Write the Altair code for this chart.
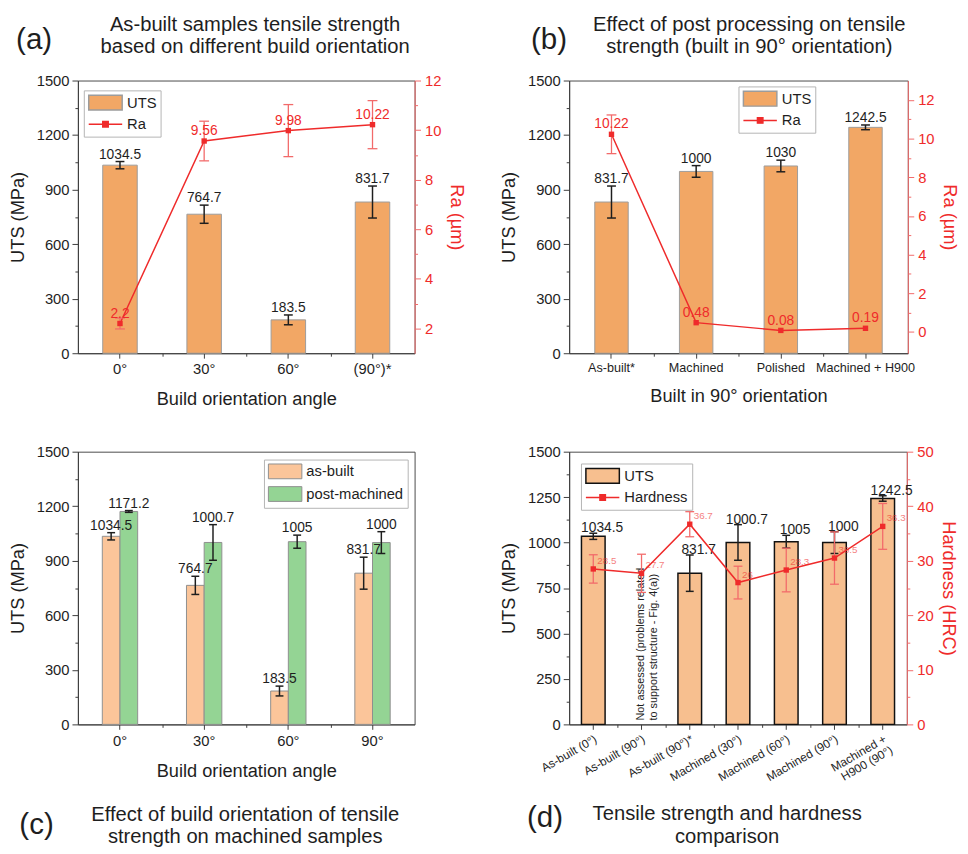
import altair as alt
import pandas as pd

FONT = "Liberation Sans"
INK = "#1e1e1e"
AXC = "#3c3c3c"
RED = "#EF2B2B"
RED_AX = "#F26A6A"
ORANGE = "#F2A765"
PEACH = "#F7BF8F"
ASB = "#FBC59A"
GREEN = "#94D494"

# legend swatch paths (symbolSize 225 -> unit = 7.5 px)
RECT = "M-1,-1H3.53V1H-1Z"
LINEPT = "M-1,0H3.53M0.9,-0.37H1.64V0.37H0.9Z"

# ---------------- data ----------------
# (a)
a_cats = ["0°", "30°", "60°", "(90°)*"]
a_uts = [1034.5, 764.7, 183.5, 831.7]
a_uts_err = [20, 50, 27, 88]
a_ra = [2.2, 9.56, 9.98, 10.22]
a_ra_err = [0.22, 0.8, 1.05, 0.97]

# (b)
b_cats = ["As-built*", "Machined", "Polished", "Machined + H900"]
b_uts = [831.7, 1000, 1030, 1242.5]
b_uts_err = [88, 32, 32, 13]
b_ra = [10.22, 0.48, 0.08, 0.19]
b_ra_err = [1.0, 0, 0, 0]

# (c)
c_cats = ["0°", "30°", "60°", "90°"]
c_series = ["as-built", "post-machined"]
c_asbuilt = [1034.5, 764.7, 183.5, 831.7]
c_asbuilt_err = [20, 50, 27, 88]
c_machined = [1171.2, 1000.7, 1005, 1000]
c_machined_err = [5, 98, 36, 60]

# (d)
d_cats = ["As-built (0°)", "As-built (90°)", "As-built (90°)*", "Machined (30°)",
          "Machined (60°)", "Machined (90°)", "Machined + H900 (90°)"]
d_uts = [1034.5, None, 831.7, 1000.7, 1005, 1000, 1242.5]
d_uts_err = [17, None, 100, 98, 35, 60, 15]
d_hard = [28.5, 27.7, 36.7, 26, 28.3, 30.5, 36.3]
d_hard_err = [2.6, 3.5, 2.3, 3.0, 4.0, 4.8, 4.2]
d_note = ["Not assessed (problems related", "to support structure - Fig. 4(a))"]

titles = {
    "a": ["As-built samples tensile strength", "based on different build orientation"],
    "b": ["Effect of post processing on tensile", "strength (built in 90° orientation)"],
    "c": ["Effect of build orientation of tensile", "strength on machined samples"],
    "d": ["Tensile strength and hardness", "comparison"],
}

W_AC, W_B, W_D, H = 342, 344, 343, 277


def fmt(v):
    return f"{v:g}"


def bar_rows(cats, vals, errs):
    rows = []
    for c, v, e in zip(cats, vals, errs):
        if v is None:
            continue
        rows.append({"cat": c, "val": v, "lo": v - e, "hi": v + e, "lab": fmt(v)})
    return pd.DataFrame(rows)


def major_test(step):
    return f"datum.value % {step} === 0"


def left_axis(step, top):
    vals = list(range(0, top + 1, step // 2))
    return alt.Axis(orient="left", values=vals, format="d", title="UTS (MPa)",
                    tickSize={"condition": {"test": major_test(step), "value": 6}, "value": 3},
                    labelPadding=3, titlePadding=9, labelFontSize=15, titleFontSize=18.5,
                    domainColor=AXC, tickColor=AXC, labelColor=INK, titleColor=INK, grid=False,
                    labelExpr=f"{major_test(step)} ? datum.label : ''")


def right_axis(lo, hi, step, title):
    vals = list(range(lo, hi + 1, step // 2))
    return alt.Axis(orient="right", values=vals, format="d", title=title,
                    tickSize={"condition": {"test": major_test(step), "value": 6}, "value": 3},
                    labelPadding=4, titlePadding=6, labelFontSize=15, titleFontSize=18.5,
                    domainColor=RED_AX, tickColor=RED_AX, labelColor=RED, titleColor=RED,
                    grid=False, labelExpr=f"{major_test(step)} ? datum.label : ''")


def bottom_axis(title, fs, angle=0, label_expr=None, title_pad=13):
    kw = dict(orient="bottom", tickSize=5, labelPadding=4, titlePadding=title_pad,
              labelFontSize=fs, titleFontSize=18.5, labelAngle=angle, domainColor=AXC,
              tickColor=AXC, labelColor=INK, titleColor=INK, labelOverlap=False, grid=False)
    kw["title"] = title
    if label_expr:
        kw["labelExpr"] = label_expr
        kw["labelLineHeight"] = 13
    return alt.Axis(**kw)


def minor_x_axis(cats, width):
    step = width / len(cats)
    return alt.Axis(orient="bottom", values=cats[:-1], tickOffset=step / 2, tickSize=3,
                    labels=False, domain=False, title=None, tickColor=AXC, grid=False)


def band(cats, padi):
    return alt.Scale(domain=cats, paddingInner=padi, paddingOuter=padi / 2)


def legend_spec(x, y):
    return alt.Legend(title=None, orient="none", legendX=x, legendY=y, symbolSize=225,
                      symbolStrokeWidth=1.5, labelFontSize=15, labelColor=INK, labelFont=FONT,
                      labelOffset=23, rowPadding=3, padding=4, strokeColor="#b4b4b4",
                      fillColor="white")


def legend_layer(names, fills, strokes, x, y):
    leg = legend_spec(x, y)
    return alt.Chart(pd.DataFrame({"series": names})).transform_filter("false").mark_point(
        filled=True, opacity=1).encode(
        color=alt.Color("series:N", scale=alt.Scale(domain=names, range=fills), legend=leg),
        stroke=alt.Stroke("series:N", scale=alt.Scale(domain=names, range=strokes), legend=leg),
        shape=alt.Shape("series:N", scale=alt.Scale(domain=names, range=[RECT, LINEPT]), legend=leg),
    )


def header_layers(letter, lx, ly, lines, tx, ty, lh):
    one = pd.DataFrame({"k": [0]})
    let = alt.Chart(one).mark_text(fontSize=30, color=INK, align="center", baseline="middle").encode(
        text=alt.value(letter), x=alt.value(lx), y=alt.value(ly))
    ttl = alt.Chart(one).mark_text(fontSize=20.5, color=INK, align="center", baseline="alphabetic",
                                   lineHeight=lh).encode(
        text=alt.value(lines), x=alt.value(tx), y=alt.value(ty))
    return [let, ttl]


def uts_ra_panel(cats, uts, uts_err, ra, ra_err, ra_dom, ra_rng, xtitle, xfs, padi, width,
                 leg_xy, header, xtp):
    bdf = bar_rows(cats, uts, uts_err)
    rdf = pd.DataFrame({"cat": cats, "val": ra, "lab": [fmt(v) for v in ra]})
    redf = pd.DataFrame([{"cat": c, "lo": v - e, "hi": v + e}
                         for c, v, e in zip(cats, ra, ra_err) if e > 0])
    x = alt.X("cat:N", sort=cats, scale=band(cats, padi), axis=bottom_axis(xtitle, xfs, title_pad=xtp))
    xm = alt.X("cat:N", sort=cats, scale=band(cats, padi), axis=minor_x_axis(cats, width))
    ys = alt.Scale(domain=[0, 1500], nice=False)
    ya = left_axis(300, 1500)

    def Y(f):
        return alt.Y(f, scale=ys, axis=ya)

    b = alt.Chart(bdf).encode(x=x)
    bars = b.mark_bar(fill=ORANGE, stroke="#9c9c9c", strokeWidth=1).encode(y=Y("val:Q"))
    err = b.mark_rule(color=INK, strokeWidth=1.5).encode(y=Y("lo:Q"), y2="hi:Q")
    cap1 = b.mark_tick(color=INK, thickness=1.5, size=9, opacity=1).encode(y=Y("lo:Q"))
    cap2 = b.mark_tick(color=INK, thickness=1.5, size=9, opacity=1).encode(y=Y("hi:Q"))
    txt = b.mark_text(fontSize=14, color=INK, baseline="alphabetic", dy=-3).encode(
        y=Y("hi:Q"), text="lab:N")
    leg = legend_layer(["UTS", "Ra"], [ORANGE, RED], ["#9c9c9c", RED], *leg_xy)
    left = alt.layer(bars, err, cap1, cap2, txt, leg, *header)

    rs = alt.Scale(domain=ra_dom, nice=False, zero=False)
    ra_ax = right_axis(ra_rng[0], ra_rng[1], 2, "Ra (µm)")

    def RY(f):
        return alt.Y(f, scale=rs, axis=ra_ax)

    r = alt.Chart(rdf).encode(x=xm)
    re_ = alt.Chart(redf).encode(x=xm)
    rline = r.mark_line(color=RED, strokeWidth=1.5).encode(y=RY("val:Q"))
    rerr = re_.mark_rule(color=RED_AX, strokeWidth=1.3).encode(y=RY("lo:Q"), y2="hi:Q")
    rc1 = re_.mark_tick(color=RED_AX, thickness=1.3, size=10, opacity=1).encode(y=RY("lo:Q"))
    rc2 = re_.mark_tick(color=RED_AX, thickness=1.3, size=10, opacity=1).encode(y=RY("hi:Q"))
    rpts = r.mark_square(color=RED, size=30, opacity=1).encode(y=RY("val:Q"))
    rtxt = r.mark_text(fontSize=14, color=RED, baseline="alphabetic", dy=-6).encode(
        y=RY("val:Q"), text="lab:N")
    right = alt.layer(rline, rerr, rc1, rc2, rpts, rtxt)
    return alt.layer(left, right).resolve_scale(x="independent", y="independent").properties(
        width=width, height=H)


pa = uts_ra_panel(a_cats, a_uts, a_uts_err, a_ra, a_ra_err, [1, 12], (2, 12),
                  "Build orientation angle", 15, 0.59, W_AC, (6, 10),
                  header_layers("(a)", -44.5, -41, titles["a"], 180, -50, 22.5), 13)
pb = uts_ra_panel(b_cats, b_uts, b_uts_err, b_ra, b_ra_err, [-1.1, 13], (0, 12),
                  "Built in 90° orientation", 12.8, 0.605, W_B, (172, 6),
                  header_layers("(b)", -20.5, -41, titles["b"], 183, -50, 22.5), 12)

# ---------------- (c) ----------------
crows = []
for s, vals, errs in [(c_series[0], c_asbuilt, c_asbuilt_err), (c_series[1], c_machined, c_machined_err)]:
    for c, v, e in zip(c_cats, vals, errs):
        crows.append({"cat": c, "series": s, "val": v, "lo": v - e, "hi": v + e, "lab": fmt(v)})
cdf = pd.DataFrame(crows)
cx = alt.X("cat:N", sort=c_cats, scale=band(c_cats, 0.58),
           axis=bottom_axis("Build orientation angle", 15, title_pad=14))
cxo = alt.XOffset("series:N", sort=c_series, scale=alt.Scale(domain=c_series, paddingInner=0, paddingOuter=0))
cys = alt.Scale(domain=[0, 1500], nice=False)
cya = left_axis(300, 1500)
cb = alt.Chart(cdf).encode(x=cx, xOffset=cxo)
c_leg = alt.Legend(title=None, orient="none", legendX=189, legendY=8, symbolSize=225,
                   symbolType=RECT, symbolStrokeColor="#8e8e8e", symbolStrokeWidth=1,
                   labelFontSize=15, labelColor=INK, labelFont=FONT, labelOffset=23, rowPadding=3,
                   padding=4, strokeColor="#b4b4b4", fillColor="white")
c_bars = cb.mark_bar(stroke="#8e8e8e", strokeWidth=1).encode(
    y=alt.Y("val:Q", scale=cys, axis=cya),
    color=alt.Color("series:N", scale=alt.Scale(domain=c_series, range=[ASB, GREEN]), legend=c_leg))
c_err = cb.mark_rule(color=INK, strokeWidth=1.5).encode(y=alt.Y("lo:Q", scale=cys, axis=cya), y2="hi:Q")
c_cap1 = cb.mark_tick(color=INK, thickness=1.5, size=8, opacity=1).encode(y=alt.Y("lo:Q", scale=cys, axis=cya))
c_cap2 = cb.mark_tick(color=INK, thickness=1.5, size=8, opacity=1).encode(y=alt.Y("hi:Q", scale=cys, axis=cya))
c_txt = cb.mark_text(fontSize=14, color=INK, baseline="alphabetic", dy=-3).encode(
    y=alt.Y("hi:Q", scale=cys, axis=cya), text="lab:N")
c_main = alt.layer(c_bars, c_err, c_cap1, c_cap2, c_txt,
                   *header_layers("(c)", -42, 379, titles["c"], 170, 375, 22.5))
c_minor = alt.Chart(pd.DataFrame({"cat": c_cats})).mark_rule(opacity=0).encode(
    x=alt.X("cat:N", sort=c_cats, scale=band(c_cats, 0.58), axis=minor_x_axis(c_cats, W_AC)))
pc = alt.layer(c_main, c_minor).resolve_scale(x="independent").properties(width=W_AC, height=H)

# ---------------- (d) ----------------
ddf = bar_rows(d_cats, d_uts, d_uts_err)
hdf = pd.DataFrame({"cat": d_cats, "val": d_hard, "lo": [v - e for v, e in zip(d_hard, d_hard_err)],
                    "hi": [v + e for v, e in zip(d_hard, d_hard_err)], "lab": [fmt(v) for v in d_hard]})
ndf = pd.DataFrame({"cat": [d_cats[1]], "y0": [0]})
d_label_expr = ("datum.label == 'Machined + H900 (90°)' ? ['Machined +', 'H900 (90°)'] : datum.label")
dx_ = alt.X("cat:N", sort=d_cats, scale=band(d_cats, 0.51),
            axis=bottom_axis(None, 12, angle=-30, label_expr=d_label_expr))
dxm = alt.X("cat:N", sort=d_cats, scale=band(d_cats, 0.51), axis=minor_x_axis(d_cats, W_D))
dys = alt.Scale(domain=[0, 1500], nice=False)
dya = left_axis(250, 1500)


def DY(f):
    return alt.Y(f, scale=dys, axis=dya)


db = alt.Chart(ddf).encode(x=dx_)
d_bars = db.mark_bar(fill=PEACH, stroke="#111111", strokeWidth=1.5).encode(y=DY("val:Q"))
d_err = db.mark_rule(color=INK, strokeWidth=1.5).encode(y=DY("lo:Q"), y2="hi:Q")
d_cap1 = db.mark_tick(color=INK, thickness=1.5, size=8, opacity=1).encode(y=DY("lo:Q"))
d_cap2 = db.mark_tick(color=INK, thickness=1.5, size=8, opacity=1).encode(y=DY("hi:Q"))
d_txt = db.mark_text(fontSize=14, color=INK, baseline="alphabetic", dx=9, dy=-1).encode(
    y=DY("hi:Q"), text="lab:N")
d_note_l = alt.Chart(ndf).mark_text(angle=270, align="left", baseline="middle", dx=4, fontSize=11,
                                    lineHeight=13, color=INK).encode(
    x=dx_, y=DY("y0:Q"), text=alt.value(d_note))
d_leg = legend_layer(["UTS", "Hardness"], [PEACH, RED], ["#111111", RED], 12, 12)
d_left = alt.layer(d_bars, d_err, d_cap1, d_cap2, d_txt, d_note_l, d_leg,
                   *header_layers("(d)", -24.5, 372, titles["d"], 160.5, 374, 23.5))

hs = alt.Scale(domain=[0, 50], nice=False)
ha = right_axis(0, 50, 10, "Hardness (HRC)")


def HY(f):
    return alt.Y(f, scale=hs, axis=ha)


hb = alt.Chart(hdf).encode(x=dxm)
h_line = hb.mark_line(color=RED, strokeWidth=1.5).encode(y=HY("val:Q"))
h_err = hb.mark_rule(color=RED_AX, strokeWidth=1.3).encode(y=HY("lo:Q"), y2="hi:Q")
h_cap1 = hb.mark_tick(color=RED_AX, thickness=1.3, size=9, opacity=1).encode(y=HY("lo:Q"))
h_cap2 = hb.mark_tick(color=RED_AX, thickness=1.3, size=9, opacity=1).encode(y=HY("hi:Q"))
h_pts = hb.mark_square(color=RED, size=30, opacity=1).encode(y=HY("val:Q"))
h_txt = hb.mark_text(fontSize=10, color=RED, opacity=0.6, align="left", baseline="middle",
                     dx=4, dy=-8).encode(y=HY("val:Q"), text="lab:N")
d_right = alt.layer(h_line, h_err, h_cap1, h_cap2, h_pts, h_txt)
pd_ = alt.layer(d_left, d_right).resolve_scale(x="independent", y="independent").properties(
    width=W_D, height=H)

chart = alt.concat(pa, pb, pc, pd_, columns=2, spacing={"row": 100, "column": 157},
                   bounds="flush").resolve_scale(
    color="independent", stroke="independent", shape="independent").resolve_legend(
    color="independent", stroke="independent", shape="independent").properties(
    padding={"left": 0, "top": 0, "right": 0, "bottom": 0}).configure_view(
    stroke="#4a4a4a", strokeWidth=1).configure_axis(
    labelFont=FONT, titleFont=FONT, titleFontWeight="normal").configure_text(
    font=FONT).configure_legend(labelFont=FONT)

chart.save("out.html", embed_options={"renderer": "svg", "actions": False})
